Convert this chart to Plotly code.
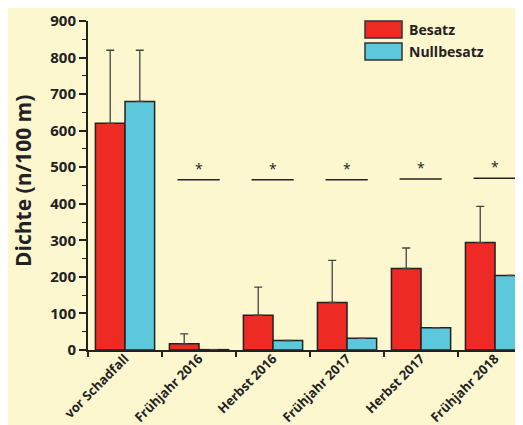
import plotly.graph_objects as go

categories = ["vor Schadfall", "Frühjahr 2016", "Herbst 2016", "Frühjahr 2017", "Herbst 2017", "Frühjahr 2018"]
besatz = [620, 17, 95, 130, 223, 294]
besatz_upper = [820, 44, 172, 245, 279, 393]
nullbesatz = [680, 1, 26, 32, 61, 204]
nullbesatz_upper = [820, None, None, None, None, None]
sig_categories = [1, 2, 3, 4, 5]
sig_y = [466, 466, 466, 468, 470]

RED = "#ee2a24"
CYAN = "#5bc8dc"
BG = "#fdf7d0"
FONT = "Open Sans"

# page offset (browser default body margin) and figure geometry
OFF = 8
W, H = 523, 425
L, T, R, B = 80, 13, 0, 83
PW, PH = W - L - R, H - T - B


def px(sx):  # screen x -> paper x
    return (sx - OFF - L) / PW


def py(sy):  # screen y -> paper y
    return (H - B - (sy - OFF)) / PH


def err(vals, upper):
    return [None if u is None else u - v for v, u in zip(vals, upper)]


fig = go.Figure()
fig.add_trace(go.Bar(
    x=categories, y=besatz, name="Besatz",
    marker=dict(color=RED, line=dict(color="#222", width=1.5)),
    error_y=dict(type="data", symmetric=False, array=err(besatz, besatz_upper),
                 arrayminus=[0] * 6, color="#444", thickness=1.3, width=4),
    showlegend=False,
))
fig.add_trace(go.Bar(
    x=categories, y=nullbesatz, name="Nullbesatz",
    marker=dict(color=CYAN, line=dict(color="#222", width=1.5)),
    error_y=dict(type="data", symmetric=False, array=err(nullbesatz, nullbesatz_upper),
                 arrayminus=[0] * 6, color="#444", thickness=1.3, width=4),
    showlegend=False,
))

# significance lines and stars
for c, yv in zip(sig_categories, sig_y):
    fig.add_shape(type="line", xref="x", yref="y", x0=c - 0.29, x1=c + 0.28, y0=yv, y1=yv,
                  line=dict(color="#222", width=1.5))
    fig.add_annotation(x=c, y=yv, xref="x", yref="y", text="*", showarrow=False,
                       yanchor="bottom", font=dict(family=FONT, size=14, color="#222"))

# custom legend (large boxes like the reference)
legend_items = [("Besatz", RED), ("Nullbesatz", CYAN)]
for i, (name, col) in enumerate(legend_items):
    top = 21 + i * 22
    bot = top + 17
    fig.add_shape(type="rect", xref="paper", yref="paper",
                  x0=px(365), x1=px(402), y0=py(bot), y1=py(top),
                  line=dict(color="#333", width=1.5), fillcolor=col)
    fig.add_annotation(xref="paper", yref="paper", x=px(407), y=py(top + 8.5),
                       text=f"<b>{name}</b>", showarrow=False,
                       xanchor="left", yanchor="middle",
                       font=dict(family=FONT, size=14, color="#222"))

# y axis title
fig.add_annotation(xref="paper", yref="paper", x=px(23), y=py(181), text="<b>Dichte (n/100 m)</b>",
                   textangle=-90, showarrow=False, xanchor="center", yanchor="middle",
                   font=dict(family=FONT, size=21, color="#222"))

fig.update_layout(
    width=W, height=H,
    paper_bgcolor=BG, plot_bgcolor=BG,
    margin=dict(l=L, r=R, t=T, b=B),
    barmode="group", bargap=0.2, bargroupgap=0,
    font=dict(family=FONT, color="#222"),
    xaxis=dict(range=[-0.5, 5.486], automargin=False, showgrid=False, showline=True,
               linecolor="#222", linewidth=2,
               ticks="outside", tickson="boundaries", ticklen=5, tickcolor="#222", tickwidth=1.5,
               tickangle=-45, tickfont=dict(family=FONT, size=13, color="#222"),
               ticklabelshift=0, ticklabelstandoff=-6,
               tickprefix="<b>", ticksuffix="</b>"),
    yaxis=dict(range=[0, 900], dtick=100, automargin=False, showgrid=False, zeroline=False,
               showline=True, linecolor="#222", linewidth=2, ticks="outside", ticklen=7,
               tickcolor="#222", tickwidth=1.5, tickfont=dict(family=FONT, size=15, color="#222"),
               tickprefix="<b>", ticksuffix="</b>",
               minor=dict(dtick=50, ticks="outside", ticklen=4, tickcolor="#222", tickwidth=1.2)),
)

fig.write_html("out.html")
